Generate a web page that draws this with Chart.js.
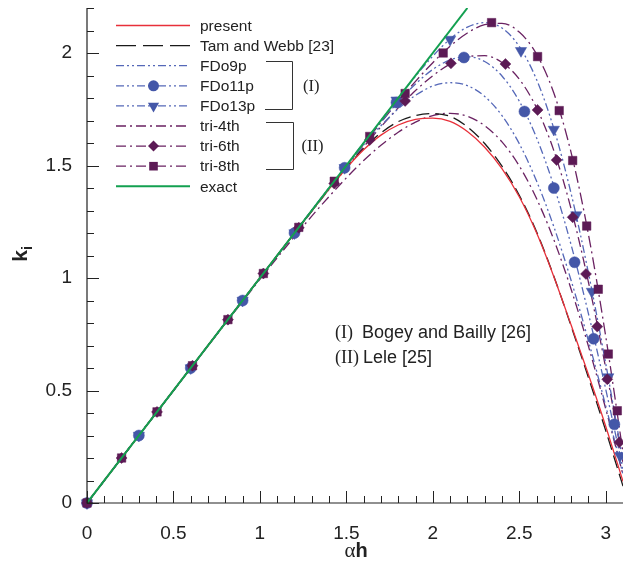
<!DOCTYPE html>
<html>
<head>
<meta charset="utf-8">
<script src="https://cdn.jsdelivr.net/npm/chart.js@4.4.1/dist/chart.umd.min.js"></script>
<style>
  html, body { margin: 0; padding: 0; background: #fff; }
  #wrap { width: 623px; height: 567px; }
</style>
</head>
<body>
<div id="wrap"><canvas id="chart" width="623" height="567"></canvas></div>
<script>
// Data
const alphaH = [0, 0.1, 0.2, 0.3, 0.4, 0.5, 0.6, 0.7, 0.8, 0.9, 1.0, 1.1, 1.2, 1.3, 1.4, 1.5,
                1.6, 1.7, 1.8, 1.9, 2.0, 2.1, 2.2, 2.3, 2.4, 2.5, 2.6, 2.7, 2.8, 2.9, 3.0, 3.1];

const present = [0, 0.1, 0.2, 0.3, 0.4, 0.5, 0.6, 0.7, 0.8, 0.9, 1.0, 1.1, 1.2, 1.298, 1.395, 1.488,
                 1.57, 1.635, 1.68, 1.705, 1.711, 1.696, 1.651, 1.581, 1.486, 1.361, 1.201, 1.006, 0.791, 0.571, 0.341, 0.096];
const tamWebb = [0, 0.1, 0.2, 0.3, 0.4, 0.5, 0.6, 0.7, 0.8, 0.9, 1.0, 1.1, 1.2, 1.298, 1.396, 1.49,
                 1.575, 1.645, 1.695, 1.722, 1.731, 1.718, 1.672, 1.598, 1.497, 1.368, 1.206, 1.008, 0.786, 0.558, 0.322, 0.075];
const fdo9p = [0, 0.1, 0.2, 0.3, 0.4, 0.5, 0.6, 0.7, 0.8, 0.9, 1.0, 1.1, 1.2, 1.301, 1.401, 1.498,
               1.592, 1.677, 1.752, 1.812, 1.853, 1.868, 1.855, 1.807, 1.722, 1.597, 1.431, 1.228, 0.989, 0.721, 0.432, 0.128];
const fdo11p = [0, 0.1, 0.2, 0.3, 0.4, 0.5, 0.6, 0.7, 0.8, 0.9, 1.0, 1.1, 1.2, 1.3, 1.4, 1.5,
                1.601, 1.694, 1.783, 1.862, 1.927, 1.969, 1.984, 1.962, 1.898, 1.786, 1.623, 1.409, 1.147, 0.842, 0.506, 0.151];
const fdo13p = [0, 0.1, 0.2, 0.3, 0.4, 0.5, 0.6, 0.7, 0.8, 0.9, 1.0, 1.1, 1.2, 1.3, 1.4, 1.5,
                1.6, 1.7, 1.8, 1.897, 1.986, 2.062, 2.115, 2.135, 2.111, 2.029, 1.882, 1.664, 1.375, 1.023, 0.62, 0.185];
const tri4 = [0, 0.1, 0.2, 0.3, 0.4, 0.5, 0.6, 0.699, 0.798, 0.896, 0.994, 1.09, 1.184, 1.275, 1.362, 1.445,
              1.522, 1.59, 1.648, 1.693, 1.722, 1.732, 1.719, 1.677, 1.605, 1.498, 1.353, 1.17, 0.95, 0.697, 0.419, 0.125];
const tri6 = [0, 0.1, 0.2, 0.3, 0.4, 0.5, 0.6, 0.7, 0.8, 0.9, 1.0, 1.099, 1.198, 1.296, 1.394, 1.489,
              1.583, 1.672, 1.756, 1.833, 1.899, 1.951, 1.983, 1.988, 1.958, 1.884, 1.756, 1.566, 1.307, 0.982, 0.6, 0.18];
const tri8 = [0, 0.1, 0.2, 0.3, 0.4, 0.5, 0.6, 0.7, 0.8, 0.9, 1.0, 1.1, 1.2, 1.3, 1.399, 1.497,
              1.595, 1.691, 1.785, 1.874, 1.957, 2.03, 2.089, 2.126, 2.132, 2.093, 1.995, 1.822, 1.557, 1.194, 0.741, 0.224];
const exactX = [0, 2.2];
const exactY = [0, 2.2];

// symbol positions
const fdo11pMarkX = [0, 0.3, 0.6, 0.9, 1.2, 1.49, 1.79, 2.18, 2.53, 2.70, 2.82, 2.93, 3.05];
const fdo11pMarkY = [0, 0.3, 0.6, 0.9, 1.2, 1.49, 1.78, 1.98, 1.74, 1.40, 1.07, 0.73, 0.35];
const fdo13pMarkX = [0, 0.3, 0.6, 0.9, 1.2, 1.49, 1.79, 2.10, 2.51, 2.70, 2.83, 2.92, 3.015, 3.083];
const fdo13pMarkY = [0, 0.3, 0.6, 0.9, 1.2, 1.49, 1.79, 2.06, 2.01, 1.66, 1.28, 0.94, 0.56, 0.21];
const tri6MarkX = [0, 0.2, 0.405, 0.61, 0.815, 1.02, 1.225, 1.43, 1.635, 1.84, 2.105, 2.42, 2.606, 2.716, 2.809, 2.886, 2.951, 3.009, 3.079];
const tri6MarkY = [0, 0.2, 0.405, 0.61, 0.815, 1.02, 1.223, 1.42, 1.613, 1.787, 1.954, 1.951, 1.747, 1.524, 1.27, 1.018, 0.784, 0.55, 0.27];
const tri8MarkX = [0, 0.2, 0.405, 0.61, 0.815, 1.02, 1.225, 1.43, 1.635, 1.84, 2.06, 2.34, 2.606, 2.731, 2.809, 2.89, 2.957, 3.015, 3.067];
const tri8MarkY = [0, 0.2, 0.405, 0.61, 0.815, 1.02, 1.225, 1.43, 1.629, 1.82, 2.0, 2.135, 1.984, 1.744, 1.522, 1.231, 0.95, 0.662, 0.41];

const xTickVals = [0, 0.5, 1, 1.5, 2, 2.5, 3];
const yTickVals = [0, 0.5, 1, 1.5, 2];
const seriesNames = ['present', 'Tam and Webb [23]', 'FDo9p', 'FDo11p', 'FDo13p', 'tri-4th', 'tri-6th', 'tri-8th', 'exact'];

// colours / styles
const RED = '#e8303a', BLACK = '#1a1a1a', BLUE = '#5568b8', BLUE_M = '#4457a8',
      PURPLE = '#6a2262', PURPLE_M = '#5c1a55', GREEN = '#13a050';
const DASH_TW = [13, 6];
const DASH_FDO = [8, 3, 2, 3, 2, 3];
const DASH_TRI = [10, 4, 2, 4];

function pts(xs, ys) {
    return xs.map((x, i) => ({ x: x, y: ys[i] }));
}

function curve(label, ys, color, dash, order, width) {
    return {
        label: label,
        data: pts(alphaH, ys),
        showLine: true,
        borderColor: color,
        borderWidth: width || 1.3,
        borderDash: dash,
        pointRadius: 0,
        cubicInterpolationMode: 'monotone',
        order: order
    };
}

function marks(label, xs, ys, color, style, r, rot, order) {
    return {
        label: label,
        data: pts(xs, ys),
        showLine: false,
        pointStyle: style,
        pointRadius: r,
        pointRotation: rot,
        pointBackgroundColor: color,
        pointBorderColor: color,
        pointBorderWidth: 0.5,
        clip: { left: 8, top: 0, right: 8, bottom: 8 },
        order: order
    };
}

const datasets = [
    { label: 'exact', data: pts(exactX, exactY), showLine: true, borderColor: GREEN, borderWidth: 2, pointRadius: 0, order: 0 },
    marks('tri-8th marks', tri8MarkX, tri8MarkY, PURPLE_M, 'rect', 6, 0, 1),
    marks('tri-6th marks', tri6MarkX, tri6MarkY, PURPLE_M, 'rectRot', 5.5, 0, 2),
    marks('FDo11p marks', fdo11pMarkX, fdo11pMarkY, BLUE_M, 'circle', 5.5, 0, 3),
    marks('FDo13p marks', fdo13pMarkX, fdo13pMarkY, BLUE_M, 'triangle', 6.5, 180, 4),
    curve('present', present, RED, [], 5),
    curve('Tam and Webb [23]', tamWebb, BLACK, DASH_TW, 6),
    curve('FDo9p', fdo9p, BLUE, DASH_FDO, 7),
    curve('FDo11p', fdo11p, BLUE, DASH_FDO, 8),
    curve('FDo13p', fdo13p, BLUE, DASH_FDO, 9),
    curve('tri-4th', tri4, PURPLE, DASH_TRI, 10),
    curve('tri-6th', tri6, PURPLE, DASH_TRI, 11),
    curve('tri-8th', tri8, PURPLE, [12, 4, 2, 4], 12)
];

// legend rows, same order as seriesNames
const legendRows = [
    { c: RED, d: [], m: null },
    { c: BLACK, d: [20, 7], m: null },
    { c: BLUE, d: DASH_FDO, m: null },
    { c: BLUE, d: DASH_FDO, m: 'circle', mc: BLUE_M },
    { c: BLUE, d: DASH_FDO, m: 'tri', mc: BLUE_M },
    { c: PURPLE, d: DASH_TRI, m: null },
    { c: PURPLE, d: DASH_TRI, m: 'diamond', mc: PURPLE_M },
    { c: PURPLE, d: DASH_TRI, m: 'square', mc: PURPLE_M },
    { c: GREEN, d: [], m: null, w: 2 }
];

function drawMark(ctx, type, x, y, color) {
    ctx.fillStyle = color;
    ctx.beginPath();
    if (type === 'circle') {
        ctx.arc(x, y, 5.5, 0, Math.PI * 2);
    } else if (type === 'tri') {
        ctx.moveTo(x - 5.6, y - 3.2); ctx.lineTo(x + 5.6, y - 3.2); ctx.lineTo(x, y + 6.5);
        ctx.closePath();
    } else if (type === 'diamond') {
        ctx.moveTo(x, y - 5.5); ctx.lineTo(x + 5.5, y); ctx.lineTo(x, y + 5.5); ctx.lineTo(x - 5.5, y);
        ctx.closePath();
    } else if (type === 'square') {
        ctx.rect(x - 4.3, y - 4.3, 8.6, 8.6);
    }
    ctx.fill();
}

const SANS = '"Liberation Sans", Arial, Helvetica, sans-serif';
const SERIF = '"Liberation Serif", "Times New Roman", serif';

function noPad(s) {
    s.paddingTop = 0; s.paddingBottom = 0; s.paddingLeft = 0; s.paddingRight = 0;
}

const decor = {
    id: 'decor',
    afterDraw(chart) {
        const ctx = chart.ctx;
        const xs = chart.scales.x, ys = chart.scales.y;
        const a = chart.chartArea;
        ctx.save();

        // axes
        ctx.strokeStyle = '#222';
        ctx.lineWidth = 1.2;
        ctx.setLineDash([]);
        ctx.beginPath();
        ctx.moveTo(a.left, a.top);
        ctx.lineTo(a.left, a.bottom);
        ctx.lineTo(a.right, a.bottom);
        ctx.stroke();

        // inward ticks
        ctx.lineWidth = 1;
        ctx.beginPath();
        for (let i = 0; i <= 31; i++) {
            const px = Math.round(xs.getPixelForValue(i / 10)) + 0.5;
            const len = i % 5 === 0 ? 12 : 7;
            ctx.moveTo(px, a.bottom);
            ctx.lineTo(px, a.bottom - len);
        }
        for (let i = 0; i <= 22; i++) {
            const py = Math.round(ys.getPixelForValue(i / 10)) + 0.5;
            const len = i % 5 === 0 ? 12 : 7;
            ctx.moveTo(a.left, py);
            ctx.lineTo(a.left + len, py);
        }
        ctx.stroke();

        // axis titles
        ctx.fillStyle = '#222';
        ctx.textBaseline = 'alphabetic';
        ctx.textAlign = 'left';
        ctx.font = '21px ' + SERIF;
        const aw = ctx.measureText('α').width;
        ctx.font = 'bold 20px ' + SANS;
        const hw = ctx.measureText('h').width;
        const tx = 356 - (aw + hw) / 2;
        ctx.font = '21px ' + SERIF;
        ctx.fillText('α', tx, 557);
        ctx.font = 'bold 20px ' + SANS;
        ctx.fillText('h', tx + aw, 557);

        ctx.save();
        ctx.translate(27, 254);
        ctx.rotate(-Math.PI / 2);
        ctx.font = 'bold 21px ' + SANS;
        const kw = ctx.measureText('k').width;
        ctx.font = 'bold 14px ' + SANS;
        const iw = ctx.measureText('i').width;
        const k0 = -(kw + iw) / 2;
        ctx.font = 'bold 21px ' + SANS;
        ctx.fillText('k', k0, 0);
        ctx.font = 'bold 14px ' + SANS;
        ctx.fillText('i', k0 + kw, 5);
        ctx.restore();

        // legend
        ctx.textBaseline = 'middle';
        legendRows.forEach((row, i) => {
            const y = 25.5 + i * 20.1;
            ctx.strokeStyle = row.c;
            ctx.lineWidth = row.w || 1.3;
            ctx.setLineDash(row.d);
            ctx.beginPath();
            ctx.moveTo(116, y);
            ctx.lineTo(190, y);
            ctx.stroke();
            ctx.setLineDash([]);
            if (row.m) drawMark(ctx, row.m, 153.5, y, row.mc);
            ctx.fillStyle = '#222';
            ctx.font = '15.5px ' + SANS;
            ctx.fillText(seriesNames[i], 200, y + 1);
        });

        // brackets
        ctx.strokeStyle = '#333';
        ctx.lineWidth = 1;
        ctx.beginPath();
        ctx.moveTo(266, 61.5); ctx.lineTo(292.5, 61.5); ctx.lineTo(292.5, 109.5); ctx.lineTo(265, 109.5);
        ctx.moveTo(266, 122.5); ctx.lineTo(293.5, 122.5); ctx.lineTo(293.5, 169.5); ctx.lineTo(266, 169.5);
        ctx.stroke();
        ctx.font = '16.5px ' + SERIF;
        ctx.fillText('(I)', 303, 87);
        ctx.fillText('(II)', 301.5, 147);

        // annotation
        ctx.textBaseline = 'alphabetic';
        ctx.font = '18px ' + SERIF;
        ctx.fillText('(I)', 335, 338);
        ctx.fillText('(II)', 335, 363);
        ctx.font = '18px ' + SANS;
        ctx.fillText('Bogey and Bailly [26]', 362, 338);
        ctx.fillText('Lele [25]', 363, 363);

        ctx.restore();
    }
};

new Chart(document.getElementById('chart'), {
    type: 'scatter',
    data: { datasets: datasets },
    options: {
        responsive: false,
        animation: false,
        events: [],
        layout: { autoPadding: false, padding: { top: 8, right: 0, left: 0, bottom: 0 } },
        plugins: { legend: { display: false }, tooltip: { enabled: false } },
        scales: {
            x: {
                type: 'linear', min: 0, max: 3.1,
                grid: { display: false },
                border: { display: false },
                ticks: { color: '#222', font: { family: SANS, size: 19 }, padding: 11, maxRotation: 0,
                         callback: v => String(v) },
                afterBuildTicks: s => { s.ticks = xTickVals.map(v => ({ value: v })); },
                afterFit: s => { s.height = 64; noPad(s); }
            },
            y: {
                type: 'linear', min: 0, max: 2.2,
                grid: { display: false },
                border: { display: false },
                ticks: { color: '#222', font: { family: SANS, size: 19 }, padding: 7,
                         callback: v => String(v) },
                afterBuildTicks: s => { s.ticks = yTickVals.map(v => ({ value: v })); },
                afterFit: s => { s.width = 87; noPad(s); }
            }
        }
    },
    plugins: [decor]
});
</script>
</body>
</html>
